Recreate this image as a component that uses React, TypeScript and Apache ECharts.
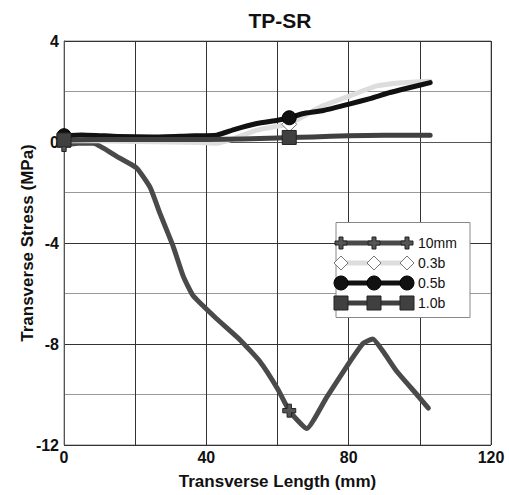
import React, { useEffect, useRef } from "react";
import * as echarts from "echarts";

const seriesNames = ["10mm", "0.3b", "0.5b", "1.0b"];
const markerX = [0, 63.3];

const x10mm = [0, 4, 8.2, 14.8, 20.4, 24.2, 27, 30.7, 33.5, 36.3, 42.9, 49.5, 55.1, 60.1, 63.3, 68.2, 73.8, 80.4, 84.1, 86.8, 89.7, 93.5, 99.1, 102.4];
const y10mm = [-0.12, -0.05, -0.05, -0.57, -1.03, -1.8, -2.84, -4.14, -5.31, -6.09, -7.0, -7.84, -8.7, -9.79, -10.64, -11.35, -10.11, -8.69, -7.97, -7.8, -8.3, -9.08, -9.99, -10.54];

const x03b = [0, 10, 20, 30, 38, 42.9, 48, 54.2, 61.6, 63.3, 67, 72.9, 80.4, 87.9, 95, 102.9];
const y03b = [0.05, 0.05, 0.02, 0.0, -0.02, -0.05, 0.15, 0.47, 0.66, 0.7, 1.0, 1.44, 1.83, 2.22, 2.35, 2.41];

const x05b = [0, 5, 15, 25, 35, 42.9, 48, 54.2, 60, 63.3, 67, 72.9, 80.4, 86, 91.6, 97, 102.9];
const y05b = [0.25, 0.28, 0.22, 0.2, 0.24, 0.27, 0.5, 0.73, 0.86, 0.96, 1.12, 1.25, 1.51, 1.72, 1.96, 2.15, 2.35];

const x10b = [0, 10, 20, 30, 40, 50, 60, 63.3, 70, 80, 90, 102.9];
const y10b = [0.08, 0.1, 0.1, 0.1, 0.1, 0.12, 0.16, 0.18, 0.2, 0.25, 0.27, 0.27];

const xTicks = [0, 40, 80, 120];
const yTicks = [-12, -8, -4, 0, 4];

const CROSS = "path://M4,0H8V4H12V8H8V12H4V8H0V4H4Z";

type Style = {
  line: string;
  symbol: string;
  size: number;
  fill: string;
  border: string;
};

const styles: Style[] = [
  { line: "#4a4a4a", symbol: CROSS, size: 13, fill: "#555555", border: "#222222" },
  { line: "#dddddd", symbol: "diamond", size: 15, fill: "#ffffff", border: "#777777" },
  { line: "#111111", symbol: "circle", size: 14, fill: "#111111", border: "#000000" },
  { line: "#404040", symbol: "rect", size: 14, fill: "#404040", border: "#222222" },
];

function build(xs: number[], ys: number[], st: Style) {
  return xs.map((x, i) => {
    const isMarker = markerX.some((m) => Math.abs(m - x) < 0.01);
    if (isMarker) {
      return {
        value: [x, ys[i]],
        symbol: st.symbol,
        symbolSize: st.size,
      };
    }
    return { value: [x, ys[i]], symbol: "none" };
  });
}

export default function App() {
  const ref = useRef<HTMLDivElement>(null);
  useEffect(() => {
    if (!ref.current) return;
    const chart = echarts.init(ref.current, undefined, { renderer: "svg" });
    const data = [
      [x10mm, y10mm],
      [x03b, y03b],
      [x05b, y05b],
      [x10b, y10b],
    ];
    const series = seriesNames.map((name, k) => {
      const st = styles[k];
      return {
        name,
        type: "line",
        data: build(data[k][0], data[k][1], st),
        showSymbol: true,
        symbol: "none",
        smooth: 0.15,
        lineStyle: { color: st.line, width: 5, cap: "round", join: "round" },
        itemStyle: { color: st.fill, borderColor: st.border, borderWidth: 1, opacity: 1 },
        z: 2 + k,
      };
    });

    // Legend drawn as graphic elements
    const lx0 = 341, lx1 = 374, lx2 = 407, tx = 418;
    const rows = [243, 263, 283, 303];
    const legendEls: any[] = [
      {
        type: "rect",
        shape: { x: 336, y: 222.5, width: 134, height: 95 },
        style: { fill: "#ffffff", stroke: "#888888", lineWidth: 1 },
        z: 100,
      },
    ];
    const mk = (k: number, cx: number, cy: number) => {
      const st = styles[k];
      if (k === 0) {
        return {
          type: "polygon",
          shape: {
            points: [
              [cx - 2, cy - 6], [cx + 2, cy - 6], [cx + 2, cy - 2], [cx + 6, cy - 2],
              [cx + 6, cy + 2], [cx + 2, cy + 2], [cx + 2, cy + 6], [cx - 2, cy + 6],
              [cx - 2, cy + 2], [cx - 6, cy + 2], [cx - 6, cy - 2], [cx - 2, cy - 2],
            ],
          },
          style: { fill: st.fill, stroke: st.border, lineWidth: 1 },
          z: 102,
        };
      }
      if (k === 1) {
        return {
          type: "polygon",
          shape: { points: [[cx, cy - 7], [cx + 7, cy], [cx, cy + 7], [cx - 7, cy]] },
          style: { fill: st.fill, stroke: st.border, lineWidth: 1 },
          z: 102,
        };
      }
      if (k === 2) {
        return {
          type: "circle",
          shape: { cx, cy, r: 7 },
          style: { fill: st.fill, stroke: st.border, lineWidth: 1 },
          z: 102,
        };
      }
      return {
        type: "rect",
        shape: { x: cx - 7, y: cy - 7, width: 14, height: 14 },
        style: { fill: st.fill, stroke: st.border, lineWidth: 1 },
        z: 102,
      };
    };
    seriesNames.forEach((name, k) => {
      const y = rows[k];
      legendEls.push({
        type: "line",
        shape: { x1: lx0, y1: y, x2: lx2, y2: y },
        style: { stroke: styles[k].line, lineWidth: 5 },
        z: 101,
      });
      [lx0, lx1, lx2].forEach((cx) => legendEls.push(mk(k, cx, y)));
      legendEls.push({
        type: "text",
        x: tx,
        y,
        style: {
          text: name,
          fill: "#111111",
          font: "14px 'Liberation Sans', Arial, sans-serif",
          textVerticalAlign: "middle",
          verticalAlign: "middle",
        },
        z: 102,
      });
    });

    chart.setOption({
      animation: false,
      backgroundColor: "#ffffff",
      title: {
        text: "TP-SR",
        left: 275,
        top: 5,
        textAlign: "center",
        textStyle: {
          fontFamily: "'Liberation Sans', Arial, sans-serif",
          fontWeight: "bold",
          fontSize: 21,
          color: "#111111",
        },
      },
      grid: {
        left: 64,
        right: 18,
        top: 41,
        bottom: 43,
        show: true,
        borderColor: "#888888",
        borderWidth: 1,
        backgroundColor: "#ffffff",
      },
      xAxis: {
        type: "value",
        min: 0,
        max: 120,
        interval: 20,
        name: "Transverse Length (mm)",
        nameLocation: "middle",
        nameGap: 28,
        nameMoveOverlap: false,
        nameTextStyle: {
          fontFamily: "'Liberation Sans', Arial, sans-serif",
          fontWeight: "bold",
          fontSize: 17,
          color: "#111111",
        },
        axisLine: { show: true, lineStyle: { color: "#555555", width: 1 } },
        axisTick: { show: false },
        axisLabel: {
          margin: 4,
          fontFamily: "'Liberation Sans', Arial, sans-serif",
          fontWeight: "bold",
          fontSize: 16,
          color: "#111111",
          formatter: (v: number) => (xTicks.indexOf(v) >= 0 ? String(v) : ""),
        },
        splitLine: { show: true, lineStyle: { color: "#333333", width: 1 } },
      },
      yAxis: {
        type: "value",
        min: -12,
        max: 4,
        interval: 4,
        name: "Transverse Stress (MPa)",
        nameLocation: "middle",
        nameGap: 28,
        nameMoveOverlap: false,
        nameTextStyle: {
          fontFamily: "'Liberation Sans', Arial, sans-serif",
          fontWeight: "bold",
          fontSize: 17,
          color: "#111111",
        },
        axisLine: { show: true, lineStyle: { color: "#555555", width: 1 } },
        axisTick: { show: false },
        minorTick: { show: false, splitNumber: 2 },
        minorSplitLine: { show: true, lineStyle: { color: "#999999", width: 1 } },
        axisLabel: {
          margin: 5,
          fontFamily: "'Liberation Sans', Arial, sans-serif",
          fontWeight: "bold",
          fontSize: 16,
          color: "#111111",
          formatter: (v: number) => (yTicks.indexOf(v) >= 0 ? String(v) : ""),
        },
        splitLine: { show: true, lineStyle: { color: "#333333", width: 1 } },
      },
      graphic: legendEls,
      series,
    });
    return () => chart.dispose();
  }, []);
  return <div ref={ref} style={{ width: 509, height: 495, position: "absolute", left: 0, top: 0 }} />;
}
